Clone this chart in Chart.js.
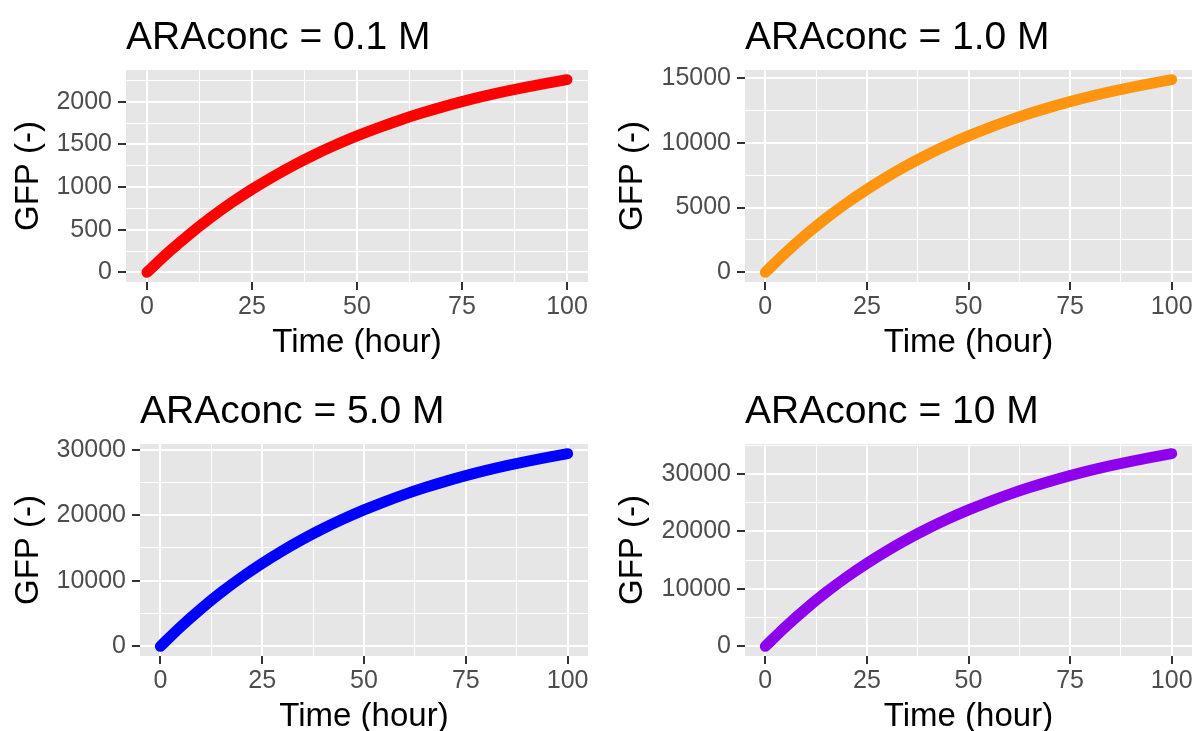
<!DOCTYPE html>
<html>
<head>
<meta charset="utf-8">
<title>GFP over time by ARA concentration</title>
<script src="https://cdn.jsdelivr.net/npm/chart.js@4.4.1/dist/chart.umd.min.js"></script>
<style>
  html, body { margin: 0; padding: 0; background: #ffffff; overflow: hidden; }
  #wrap { position: relative; width: 1198px; height: 731px; overflow: hidden; }
  canvas { position: absolute; }
</style>
</head>
<body>
<div id="wrap">
  <canvas id="c1" width="599" height="374" style="left:0px;top:0px"></canvas>
  <canvas id="c2" width="599" height="374" style="left:599px;top:0px"></canvas>
  <canvas id="c3" width="599" height="374" style="left:0px;top:374px"></canvas>
  <canvas id="c4" width="599" height="374" style="left:599px;top:374px"></canvas>
</div>
<script>
// time points (hour)
const times = [0, 5, 10, 15, 20, 25, 30, 35, 40, 45, 50, 55, 60, 65, 70, 75, 80, 85, 90, 95, 100];

// GFP readings for each arabinose concentration
const gfp01 = [0, 231, 442, 635, 812, 974, 1122, 1258, 1382, 1495, 1599, 1694, 1781, 1861, 1934, 2001, 2062, 2118, 2169, 2216, 2259];
const gfp10 = [0, 1518, 2907, 4179, 5342, 6408, 7383, 8275, 9093, 9840, 10524, 11150, 11723, 12248, 12729, 13169, 13571, 13940, 14277, 14585, 14868];
const gfp50 = [0, 3000, 5745, 8260, 10559, 12666, 14593, 16357, 17972, 19449, 20802, 22038, 23172, 24210, 25159, 26030, 26824, 27553, 28219, 28828, 29388];
const gfp100 = [0, 3424, 6558, 9428, 12052, 14458, 16657, 18671, 20514, 22200, 23745, 25156, 26449, 27634, 28717, 29712, 30618, 31451, 32211, 32906, 33545];

const panelTitles = ["ARAconc = 0.1 M", "ARAconc = 1.0 M", "ARAconc = 5.0 M", "ARAconc = 10 M"];

// axis breaks
const xTicks = [0, 25, 50, 75, 100];
const xMinor = [12.5, 37.5, 62.5, 87.5];
const yTicks01 = [0, 500, 1000, 1500, 2000];
const yMinor01 = [250, 750, 1250, 1750, 2250];
const yTicks10 = [0, 5000, 10000, 15000];
const yMinor10 = [2500, 7500, 12500];
const yTicks50 = [0, 10000, 20000, 30000];
const yMinor50 = [5000, 15000, 25000];
const yTicks100 = [0, 10000, 20000, 30000];
const yMinor100 = [5000, 15000, 25000, 35000];

Chart.defaults.font.family = "'Liberation Sans', Arial, Helvetica, sans-serif";

const panels = [
  { id: "c1", title: panelTitles[0], values: gfp01, color: "#FF0000", yTicks: yTicks01, yMinor: yMinor01, axisW: 126, padRight: 11, yTitlePad: 10 },
  { id: "c2", title: panelTitles[1], values: gfp10, color: "#FF9410", yTicks: yTicks10, yMinor: yMinor10, axisW: 146, padRight: 6, yTitlePad: 15 },
  { id: "c3", title: panelTitles[2], values: gfp50, color: "#0000FF", yTicks: yTicks50, yMinor: yMinor50, axisW: 140, padRight: 11, yTitlePad: 10 },
  { id: "c4", title: panelTitles[3], values: gfp100, color: "#8E00EC", yTicks: yTicks100, yMinor: yMinor100, axisW: 146, padRight: 6, yTitlePad: 15 }
];

// grey panel background behind the grid
const panelBackground = {
  id: "panelBackground",
  beforeDraw(chart) {
    const { ctx, chartArea: a } = chart;
    ctx.save();
    ctx.fillStyle = "#E6E6E6";
    ctx.fillRect(a.left, a.top, a.right - a.left, a.bottom - a.top);
    ctx.restore();
  }
};

// left-aligned title sitting over the panel
const panelTitle = {
  id: "panelTitle",
  afterDraw(chart, args, opts) {
    const { ctx, chartArea: a } = chart;
    ctx.save();
    ctx.font = "39px 'Liberation Sans', Arial, sans-serif";
    ctx.fillStyle = "#000000";
    ctx.textAlign = "left";
    ctx.textBaseline = "alphabetic";
    ctx.fillText(opts.text, a.left, 49);
    ctx.restore();
  }
};

function withMinor(major, minor) {
  return major.map(v => ({ value: v }))
    .concat(minor.map(v => ({ value: v, minor: true })))
    .sort((a, b) => a.value - b.value);
}

const isMinor = c => c.tick && c.tick.minor;

function gridStyle() {
  return {
    color: "#FFFFFF",
    lineWidth: c => isMinor(c) ? 1 : 2,
    tickColor: c => isMinor(c) ? "rgba(0,0,0,0)" : "#333333",
    tickWidth: 2,
    tickLength: 8,
    drawTicks: true
  };
}

panels.forEach(p => {
  const yMax = p.values[p.values.length - 1];
  new Chart(document.getElementById(p.id), {
    type: "line",
    data: {
      datasets: [{
        data: times.map((t, i) => ({ x: t, y: p.values[i] })),
        borderColor: p.color,
        backgroundColor: p.color,
        borderWidth: 11,
        borderCapStyle: "round",
        borderJoinStyle: "round",
        cubicInterpolationMode: "monotone",
        pointRadius: 0,
        fill: false
      }]
    },
    options: {
      responsive: false,
      animation: false,
      events: [],
      layout: { padding: { top: 70, right: p.padRight, bottom: 0, left: 0 } },
      plugins: {
        legend: { display: false },
        tooltip: { enabled: false },
        panelTitle: { text: p.title }
      },
      scales: {
        x: {
          type: "linear",
          min: -5,
          max: 105,
          afterBuildTicks: s => { s.ticks = withMinor(xTicks, xMinor); },
          afterFit: s => { s.height = 92; },
          grid: gridStyle(),
          border: { display: false },
          ticks: {
            autoSkip: false,
            maxRotation: 0,
            padding: 2,
            color: "#4D4D4D",
            font: { size: 25 },
            callback: (v, i, ticks) => ticks[i].minor ? "" : String(v)
          },
          title: {
            display: true,
            text: "Time (hour)",
            color: "#000000",
            font: { size: 33, lineHeight: 1.2 },
            padding: { top: 0, bottom: 11 }
          }
        },
        y: {
          type: "linear",
          min: -0.05 * yMax,
          max: 1.05 * yMax,
          afterBuildTicks: s => { s.ticks = withMinor(p.yTicks, p.yMinor); },
          afterFit: s => { s.width = p.axisW; },
          grid: gridStyle(),
          border: { display: false },
          ticks: {
            autoSkip: false,
            padding: 6,
            color: "#4D4D4D",
            font: { size: 25 },
            callback: (v, i, ticks) => ticks[i].minor ? "" : String(v)
          },
          title: {
            display: true,
            text: "GFP (-)",
            color: "#000000",
            font: { size: 33, lineHeight: 1.2 },
            padding: { top: p.yTitlePad - 1, bottom: 0 }
          }
        }
      }
    },
    plugins: [panelBackground, panelTitle]
  });
});
</script>
</body>
</html>
